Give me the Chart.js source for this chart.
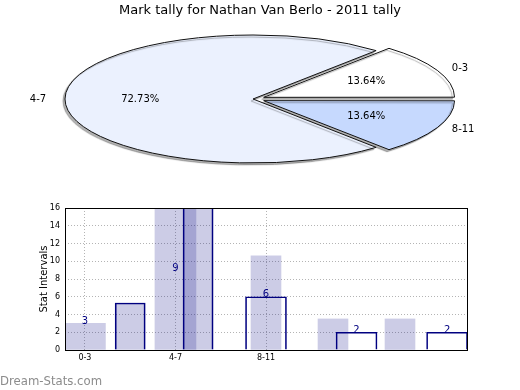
<!DOCTYPE html>
<html>
<head>
<meta charset="utf-8">
<script src="https://cdn.jsdelivr.net/npm/chart.js@4/dist/chart.umd.min.js"></script>
<style>
  html, body { margin: 0; padding: 0; background: #fff; overflow: hidden; }
  #wrap { position: relative; width: 520px; height: 390px; }
  canvas { position: absolute; left: 0; top: 0; }
</style>
</head>
<body>
<div id="wrap">
  <canvas id="chart-bars" width="520" height="390"></canvas>
  <canvas id="chart-pie" width="520" height="200"></canvas>
</div>
<script>
// pie: share of marks per interval
const pieLabels = ['0-3', '4-7', '8-11'];
const pieValues = [3, 16, 3];

// bar chart: interval ticks on the x axis
const xTickLabels = ['0-3', '4-7', '8-11'];

// shaded bars (x position, height, wide or narrow)
const shadeX = [0, 0.5, 1, 1.25, 2, 2.74, 3.48];
const shadeY = [3, 5.3, 18, 18, 10.6, 3.5, 3.5];
const shadeWide = [true, false, true, false, false, false, false];

// outlined bars
const outlineX = [0.5, 1.25, 2, 3, 4];
const outlineY = [5.3, 18, 6, 2, 2];
const outlineWide = [false, false, true, true, true];

// count labels written on the bars
const countX = [0, 1, 2, 3, 4];
const countY = [3, 9, 6, 2, 2];

Chart.defaults.font.family = 'DejaVu Sans';
Chart.defaults.color = '#000';

// pie is squashed into an ellipse
const PIE_CX = 253, PIE_CY = 99, PIE_RX = 188, PIE_RY = 64;

const ellipsePie = {
    id: 'ellipsePie',
    beforeDatasetsDraw(chart) {
        const arc = chart.getDatasetMeta(0).data[0];
        const ctx = chart.ctx;
        const dpr = chart.currentDevicePixelRatio || 1;
        ctx.save();
        ctx.translate(PIE_CX, PIE_CY);
        ctx.scale(PIE_RX / arc.outerRadius, PIE_RY / arc.outerRadius);
        ctx.translate(-arc.x, -arc.y);
        ctx.shadowColor = 'rgba(0,0,0,0.3)';
        ctx.shadowOffsetX = -2;
        ctx.shadowOffsetY = 2;
        ctx.shadowBlur = 1;
        const stroke = CanvasRenderingContext2D.prototype.stroke;
        // keep the outline 1px all round
        ctx.stroke = function() {
            this.save();
            this.setTransform(dpr, 0, 0, dpr, 0, 0);
            stroke.call(this);
            this.restore();
        };
    },
    afterDatasetsDraw(chart) {
        const ctx = chart.ctx;
        delete ctx.stroke;
        ctx.restore();

        const meta = chart.getDatasetMeta(0);
        const values = chart.data.datasets[0].data;
        const total = values.reduce((a, b) => a + b, 0);
        ctx.save();
        ctx.font = '10px "DejaVu Sans"';
        ctx.fillStyle = '#000';
        ctx.textBaseline = 'middle';
        meta.data.forEach((arc, i) => {
            const mid = (arc.startAngle + arc.endAngle) / 2;
            const d = (arc.options.offset || 0) / 4 / arc.outerRadius;
            const at = f => [PIE_CX + Math.cos(mid) * (d + f) * PIE_RX,
                             PIE_CY + Math.sin(mid) * (d + f) * PIE_RY];
            let p = at(1.1);
            ctx.textAlign = Math.cos(mid) > 0 ? 'left' : 'right';
            ctx.fillText(chart.data.labels[i], p[0], p[1]);
            p = at(0.6);
            ctx.textAlign = 'center';
            ctx.fillText((values[i] / total * 100).toFixed(2) + '%', p[0], p[1]);
        });
        ctx.restore();
    }
};

// matplotlib starts at 3 o'clock and goes anticlockwise
const pieOrder = [2, 1, 0];

new Chart(document.getElementById('chart-pie'), {
    type: 'pie',
    data: {
        labels: pieOrder.map(i => pieLabels[i]),
        datasets: [{
            data: pieOrder.map(i => pieValues[i]),
            backgroundColor: ['#c6d9fe', '#ebf1fe', '#ffffff'],
            borderColor: '#111',
            borderWidth: 1,
            borderJoinStyle: 'miter',
            offset: [20, 0, 20],
            hoverOffset: 0,
            clip: false
        }]
    },
    options: {
        responsive: false,
        animation: false,
        rotation: 90,
        layout: { padding: 0 },
        plugins: {
            legend: { display: false },
            tooltip: { enabled: false },
            title: {
                display: true,
                text: 'Mark tally for Nathan Van Berlo - 2011 tally',
                font: { size: 13, weight: 'normal' },
                color: '#000',
                padding: { top: 3, bottom: 0 }
            }
        }
    },
    plugins: [ellipsePie]
});

// bar chart
const WIDE = 41, NARROW = 30;

function barSet(xs, ys, wide, pick, style) {
    return Object.assign({
        data: xs.map((x, i) => ({ x: x, y: ys[i] })).filter((p, i) => wide[i] === pick),
        barThickness: pick ? WIDE : NARROW,
        grouped: false,
        clip: 0
    }, style);
}

const shadeStyle = { backgroundColor: 'rgba(0,0,128,0.2)', borderWidth: 0 };
const outlineStyle = {
    backgroundColor: 'rgba(0,0,0,0)',
    borderColor: '#000080',
    borderWidth: 1
};

const frameAndText = {
    id: 'frameAndText',
    afterDatasetsDraw(chart) {
        const ctx = chart.ctx;
        const xs = chart.scales.x, ys = chart.scales.y;
        ctx.save();
        ctx.font = '10px "DejaVu Sans"';
        ctx.fillStyle = '#000080';
        ctx.textAlign = 'center';
        ctx.textBaseline = 'middle';
        countX.forEach((x, i) => {
            ctx.fillText(String(countY[i]), xs.getPixelForValue(x), ys.getPixelForValue(countY[i]) - 2);
        });
        ctx.restore();
    },
    afterDraw(chart) {
        const ctx = chart.ctx;
        const a = chart.chartArea;
        ctx.save();
        ctx.strokeStyle = '#000';
        ctx.lineWidth = 1;
        ctx.strokeRect(Math.round(a.left) + 0.5, Math.round(a.top) + 0.5,
            Math.round(a.right - a.left), Math.round(a.bottom - a.top));
        ctx.font = '11.7px "DejaVu Sans"';
        ctx.fillStyle = '#8c8c8c';
        ctx.textAlign = 'left';
        ctx.textBaseline = 'alphabetic';
        ctx.fillText('Dream-Stats.com', 0, 385);
        ctx.restore();
    }
};

new Chart(document.getElementById('chart-bars'), {
    type: 'bar',
    data: {
        datasets: [
            barSet(shadeX, shadeY, shadeWide, true, shadeStyle),
            barSet(shadeX, shadeY, shadeWide, false, shadeStyle),
            barSet(outlineX, outlineY, outlineWide, false, outlineStyle),
            barSet(outlineX, outlineY, outlineWide, true, outlineStyle)
        ]
    },
    options: {
        responsive: false,
        animation: false,
        layout: { padding: { left: 36, top: 208, right: 53, bottom: 20 } },
        plugins: {
            legend: { display: false },
            tooltip: { enabled: false }
        },
        scales: {
            x: {
                type: 'linear',
                min: -0.22,
                max: 4.22,
                offset: false,
                grid: { offset: false, color: '#b4b4b4', lineWidth: 1, drawTicks: false },
                border: { display: false, dash: [1, 2] },
                ticks: {
                    font: { size: 8 },
                    color: '#000',
                    padding: 3,
                    callback: v => xTickLabels[v]
                },
                afterBuildTicks: s => { s.ticks = xTickLabels.map((t, i) => ({ value: i })); },
                afterFit: s => { s.height = 20; }
            },
            y: {
                min: 0,
                max: 16,
                grid: { color: '#b4b4b4', lineWidth: 1, drawTicks: false },
                border: { display: false, dash: [1, 2] },
                ticks: { stepSize: 2, font: { size: 8 }, color: '#000', padding: 5 },
                title: {
                    display: true,
                    text: 'Stat Intervals',
                    font: { size: 10 },
                    color: '#000',
                    padding: { top: 2, bottom: 0 }
                },
                afterFit: s => { s.width = 29; }
            }
        }
    },
    plugins: [frameAndText]
});
</script>
</body>
</html>
